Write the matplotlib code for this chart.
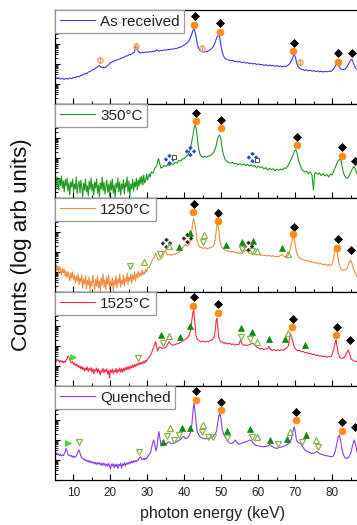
import numpy as np
import matplotlib
matplotlib.use("Agg")
import matplotlib.pyplot as plt
from matplotlib.path import Path
from matplotlib.ticker import MultipleLocator, FixedLocator, LogLocator, NullFormatter

plt.rcParams['font.family'] = ['Liberation Sans', 'DejaVu Sans']

# ---------------------------------------------------------------------------
# Spectra: (photon energy in keV, log10 counts in arbitrary units)
# ---------------------------------------------------------------------------
as_received = [
    (5.0, 1.33), (5.5, 1.29), (6.0, 1.31), (6.5, 1.25), (7.0, 1.27), (7.5, 1.23), (8.0, 1.28), (8.5, 1.25),
    (9.0, 1.30), (9.5, 1.27), (10.0, 1.33), (10.5, 1.31), (11.0, 1.38), (11.5, 1.36), (12.0, 1.43), (12.5, 1.44),
    (13.0, 1.52), (13.5, 1.51), (14.0, 1.60), (14.5, 1.62), (15.0, 1.70), (15.5, 1.72), (16.0, 1.80), (16.5, 1.85),
    (17.0, 1.93), (17.5, 1.83), (18.0, 1.84), (18.5, 1.81), (19.0, 1.88), (19.5, 1.96), (20.0, 2.08), (20.5, 2.10),
    (21.0, 2.16), (21.5, 2.17), (22.0, 2.23), (22.5, 2.24), (23.0, 2.31), (23.5, 2.32), (24.0, 2.39), (24.5, 2.40),
    (25.0, 2.46), (25.5, 2.47), (26.0, 2.53), (26.5, 2.60), (27.0, 2.95), (27.5, 2.63), (28.0, 2.55), (28.5, 2.58),
    (29.0, 2.56), (29.5, 2.60), (30.0, 2.58), (30.5, 2.62), (31.0, 2.60), (31.5, 2.64), (32.0, 2.63), (32.5, 2.71),
    (33.0, 2.64), (33.5, 2.68), (34.0, 2.66), (34.5, 2.70), (35.0, 2.69), (35.5, 2.73), (36.0, 2.71), (36.5, 2.75),
    (37.0, 2.74), (37.5, 2.78), (38.0, 2.78), (38.5, 2.83), (39.0, 2.84), (39.5, 2.90), (40.0, 2.95), (40.5, 3.03),
    (41.0, 3.10), (41.5, 3.26), (42.0, 3.50), (42.3, 3.68), (42.6, 3.75), (42.9, 3.60), (43.2, 3.30), (43.5, 3.00),
    (43.8, 2.80), (44.2, 2.68), (44.7, 2.62), (45.2, 2.60), (45.7, 2.61), (46.2, 2.64), (46.7, 2.68), (47.2, 2.75),
    (47.7, 2.84), (48.2, 3.02), (48.6, 3.25), (48.9, 3.38), (49.2, 3.43), (49.5, 3.38), (49.8, 3.05), (50.1, 2.70),
    (50.5, 2.42), (51.0, 2.28), (51.5, 2.23), (52.0, 2.20), (52.5, 2.16), (53.0, 2.18), (53.5, 2.13), (54.0, 2.14),
    (54.5, 2.10), (55.0, 2.12), (55.5, 2.07), (56.0, 2.09), (56.5, 2.05), (57.0, 2.07), (57.5, 2.02), (58.0, 2.05),
    (58.5, 2.00), (59.0, 2.03), (59.5, 1.98), (60.0, 2.00), (60.5, 1.96), (61.0, 1.98), (61.5, 1.93), (62.0, 1.96),
    (62.5, 1.92), (63.0, 1.95), (63.5, 1.90), (64.0, 1.93), (64.5, 1.89), (65.0, 1.92), (65.5, 1.87), (66.0, 1.90),
    (66.5, 1.86), (67.0, 1.89), (67.5, 1.88), (68.0, 1.94), (68.5, 2.02), (69.0, 2.18), (69.4, 2.38), (69.7, 2.48),
    (70.0, 2.35), (70.4, 2.02), (70.8, 1.86), (71.2, 1.78), (71.6, 1.74), (72.0, 1.72), (72.5, 1.68), (73.0, 1.71),
    (73.5, 1.66), (74.0, 1.69), (74.5, 1.64), (75.0, 1.67), (75.5, 1.62), (76.0, 1.65), (76.5, 1.61), (77.0, 1.64),
    (77.5, 1.60), (78.0, 1.63), (78.5, 1.61), (79.0, 1.64), (79.5, 1.63), (80.0, 1.68), (80.5, 1.80), (81.0, 1.95),
    (81.4, 2.03), (81.8, 1.90), (82.2, 1.77), (82.6, 1.72), (83.0, 1.73), (83.5, 1.75), (84.0, 1.86), (84.5, 2.05),
    (85.0, 2.20), (85.3, 2.23), (85.7, 2.05), (86.2, 1.82), (86.7, 1.75), (87.2, 1.73), (87.7, 1.75), (88.2, 1.72),
]

annealed_350 = [
    (5.0, 0.95), (5.25, 0.55), (5.5, 1.05), (5.75, 0.70), (6.0, 0.40), (6.25, 0.98), (6.5, 0.62), (6.75, 1.10),
    (7.0, 0.50), (7.25, 0.85), (7.5, 0.30), (7.75, 0.92), (8.0, 0.60), (8.25, 1.00), (8.5, 0.35), (8.75, 0.75),
    (9.0, 0.15), (9.25, 0.80), (9.5, 0.55), (9.75, 0.95), (10.0, 0.30), (10.25, 0.70), (10.5, 0.45), (10.75, 1.05),
    (11.0, 0.20), (11.25, 0.65), (11.5, 0.85), (11.75, 0.25), (12.0, 0.90), (12.25, 0.50), (12.5, 0.05), (12.75, 0.75),
    (13.0, 0.40), (13.25, 0.95), (13.5, 0.30), (13.75, 0.60), (14.0, 0.10), (14.25, 0.85), (14.5, 0.45), (14.75, 1.00),
    (15.0, 0.35), (15.25, 0.70), (15.5, 0.15), (15.75, 0.80), (16.0, 0.50), (16.25, 0.95), (16.5, 0.25), (16.75, 0.65),
    (17.0, 0.05), (17.25, 0.75), (17.5, 0.45), (17.75, 1.05), (18.0, 0.35), (18.25, 0.80), (18.5, 0.20), (18.75, 0.60),
    (19.0, 0.90), (19.25, 0.30), (19.5, 0.70), (19.75, 0.10), (20.0, 0.85), (20.25, 0.40), (20.5, 0.95), (20.75, 0.25),
    (21.0, 0.65), (21.25, 0.05), (21.5, 0.75), (21.75, 0.50), (22.0, 1.00), (22.25, 0.30), (22.5, 0.80), (22.75, 0.15),
    (23.0, 0.70), (23.25, 0.45), (23.5, 0.90), (23.75, 0.20), (24.0, 0.75), (24.25, 0.55), (24.5, 1.05), (24.75, 0.30),
    (25.0, 0.85), (25.25, 0.10), (25.5, 0.70), (25.75, 0.45), (26.0, 0.95), (26.25, 0.35), (26.5, 0.80), (26.75, 0.55),
    (27.0, 1.00), (27.25, 0.40), (27.5, 0.90), (27.75, 0.60), (28.0, 1.05), (28.25, 0.70), (28.5, 1.10), (28.75, 0.65),
    (29.0, 1.15), (29.25, 0.75), (29.5, 0.85), (29.75, 1.20), (30.0, 0.90), (30.25, 1.05), (30.5, 1.20), (30.75, 1.05),
    (31.0, 1.30), (31.5, 1.25), (32.0, 1.50), (32.5, 1.60), (32.8, 1.85), (33.0, 1.98), (33.3, 1.75), (33.6, 1.50),
    (34.0, 1.52), (34.5, 1.62), (35.0, 1.58), (35.5, 1.68), (36.0, 1.62), (36.5, 1.72), (37.0, 1.68), (37.5, 1.78),
    (38.0, 1.75), (38.5, 1.88), (39.0, 1.85), (39.5, 1.95), (40.0, 1.98), (40.5, 2.08), (41.0, 2.15), (41.5, 2.40),
    (41.9, 2.75), (42.3, 3.10), (42.6, 3.50), (42.9, 3.65), (43.2, 3.45), (43.5, 2.95), (43.8, 2.50), (44.2, 2.20),
    (44.6, 2.08), (45.0, 2.04), (45.5, 2.08), (46.0, 2.03), (46.5, 2.10), (47.0, 2.12), (47.5, 2.20), (48.0, 2.32),
    (48.5, 2.55), (48.9, 2.90), (49.2, 3.08), (49.5, 3.15), (49.8, 3.00), (50.1, 2.60), (50.5, 2.20), (51.0, 1.92),
    (51.5, 1.82), (52.0, 1.78), (52.5, 1.75), (53.0, 1.78), (53.5, 1.70), (54.0, 1.74), (54.5, 1.66), (55.0, 1.72),
    (55.5, 1.64), (56.0, 1.70), (56.5, 1.62), (57.0, 1.68), (57.5, 1.60), (58.0, 1.66), (58.5, 1.58), (59.0, 1.63),
    (59.5, 1.50), (60.0, 1.60), (60.5, 1.52), (61.0, 1.56), (61.5, 1.45), (62.0, 1.52), (62.5, 1.40), (63.0, 1.48),
    (63.5, 1.42), (64.0, 1.46), (64.5, 1.36), (65.0, 1.44), (65.5, 1.38), (66.0, 1.45), (66.5, 1.40), (67.0, 1.50),
    (67.5, 1.48), (68.0, 1.62), (68.5, 1.80), (69.0, 1.98), (69.5, 2.22), (69.9, 2.38), (70.2, 2.40), (70.5, 2.22),
    (70.9, 1.85), (71.3, 1.65), (71.7, 1.45), (72.0, 1.38), (72.5, 1.30), (73.0, 1.35), (73.5, 1.22), (74.0, 1.30),
    (74.5, 1.15), (74.9, 0.40), (75.2, 1.20), (75.5, 1.28), (76.0, 1.18), (76.5, 1.25), (77.0, 1.12), (77.5, 1.22),
    (78.0, 1.10), (78.5, 1.18), (79.0, 1.05), (79.5, 1.20), (80.0, 1.15), (80.5, 1.40), (81.0, 1.62), (81.5, 1.85),
    (82.0, 1.93), (82.3, 1.90), (82.7, 1.55), (83.0, 1.25), (83.5, 1.05), (84.0, 0.98), (84.5, 1.10), (85.0, 1.30),
    (85.5, 1.50), (85.9, 1.57), (86.3, 1.40), (86.8, 1.15), (87.3, 1.10), (88.0, 1.05),
]

annealed_1250 = [
    (5.0, 1.20), (5.25, 1.40), (5.5, 1.05), (5.75, 1.30), (6.0, 0.95), (6.25, 1.25), (6.5, 1.10), (6.75, 0.85),
    (7.0, 1.20), (7.25, 0.95), (7.5, 1.15), (7.75, 0.80), (8.0, 1.05), (8.25, 0.70), (8.5, 1.00), (8.75, 0.85),
    (9.0, 0.55), (9.25, 0.95), (9.5, 0.70), (9.75, 1.00), (10.0, 0.60), (10.25, 0.85), (10.5, 0.45), (10.75, 0.80),
    (11.0, 0.55), (11.25, 0.90), (11.5, 0.35), (11.75, 0.70), (12.0, 0.50), (12.25, 0.85), (12.5, 0.20), (12.75, 0.65),
    (13.0, 0.40), (13.25, 0.80), (13.5, 0.15), (13.75, 0.60), (14.0, 0.35), (14.25, 0.75), (14.5, 0.05), (14.75, 0.55),
    (15.0, 0.30), (15.25, 0.85), (15.5, 0.40), (15.75, 0.10), (16.0, 0.65), (16.25, 0.30), (16.5, 0.80), (16.75, 0.20),
    (17.0, 0.55), (17.25, 0.05), (17.5, 0.70), (17.75, 0.35), (18.0, 0.90), (18.25, 0.25), (18.5, 0.60), (18.75, 0.10),
    (19.0, 0.75), (19.25, 0.40), (19.5, 0.85), (19.75, 0.15), (20.0, 0.55), (20.25, 0.30), (20.5, 0.70), (20.75, 0.05),
    (21.0, 0.60), (21.25, 0.35), (21.5, 0.80), (21.75, 0.20), (22.0, 0.65), (22.25, 0.45), (22.5, 0.90), (22.75, 0.25),
    (23.0, 0.60), (23.25, 0.40), (23.5, 0.85), (23.75, 0.30), (24.0, 0.70), (24.25, 0.50), (24.5, 0.95), (24.75, 0.40),
    (25.0, 0.75), (25.25, 0.55), (25.5, 0.90), (25.75, 0.45), (26.0, 0.85), (26.25, 0.60), (26.5, 1.00), (26.75, 0.55),
    (27.0, 0.90), (27.25, 0.70), (27.5, 1.05), (27.75, 0.75), (28.0, 0.95), (28.25, 0.80), (28.5, 1.10), (28.75, 0.85),
    (29.0, 1.00), (29.25, 0.90), (29.5, 1.15), (29.75, 1.00), (30.0, 1.20), (30.5, 1.25), (31.0, 1.45), (31.5, 1.65),
    (32.0, 1.80), (32.3, 1.93), (32.7, 1.70), (33.0, 1.60), (33.5, 1.65), (34.0, 1.72), (34.4, 1.90), (34.8, 2.10),
    (35.2, 1.92), (35.6, 1.85), (36.0, 1.87), (36.5, 1.84), (37.0, 1.90), (37.5, 1.88), (38.0, 1.95), (38.5, 2.00),
    (39.0, 2.08), (39.5, 2.22), (40.0, 2.32), (40.3, 2.38), (40.7, 2.28), (41.1, 2.35), (41.5, 2.50), (41.9, 2.85),
    (42.2, 3.40), (42.5, 3.68), (42.8, 3.45), (43.1, 3.10), (43.4, 2.60), (43.8, 2.35), (44.2, 2.24), (44.7, 2.22),
    (45.2, 2.18), (45.7, 2.21), (46.2, 2.16), (46.7, 2.20), (47.2, 2.22), (47.7, 2.28), (48.1, 2.40), (48.5, 2.90),
    (48.8, 3.40), (49.0, 3.43), (49.3, 3.10), (49.6, 2.55), (50.0, 2.28), (50.5, 2.15), (51.0, 2.10), (51.5, 2.05),
    (52.0, 2.06), (52.5, 2.00), (53.0, 2.03), (53.5, 1.98), (54.0, 1.99), (54.5, 1.94), (55.0, 1.96), (55.5, 1.92),
    (56.0, 1.98), (56.5, 2.10), (57.0, 2.05), (57.5, 1.94), (58.0, 1.92), (58.5, 1.88), (59.0, 1.90), (59.5, 1.86),
    (60.0, 1.88), (60.5, 1.84), (61.0, 1.86), (61.5, 1.82), (62.0, 1.84), (62.5, 1.80), (63.0, 1.83), (63.5, 1.78),
    (64.0, 1.81), (64.5, 1.76), (65.0, 1.79), (65.5, 1.76), (66.0, 1.84), (66.5, 1.86), (67.0, 1.78), (67.5, 1.76),
    (68.0, 1.82), (68.5, 2.05), (69.0, 2.50), (69.4, 2.85), (69.8, 2.55), (70.2, 2.10), (70.6, 1.85), (71.0, 1.72),
    (71.5, 1.66), (72.0, 1.62), (72.5, 1.58), (73.0, 1.60), (73.5, 1.52), (74.0, 1.55), (74.5, 1.48), (75.0, 1.50),
    (75.5, 1.44), (76.0, 1.47), (76.5, 1.40), (77.0, 1.43), (77.5, 1.35), (78.0, 1.40), (78.5, 1.33), (79.0, 1.37),
    (79.5, 1.32), (80.0, 1.40), (80.4, 1.75), (80.8, 2.25), (81.0, 2.35), (81.3, 2.00), (81.6, 1.60), (82.0, 1.30),
    (82.5, 1.12), (83.0, 1.08), (83.5, 1.12), (84.0, 1.20), (84.5, 1.45), (84.9, 1.60), (85.3, 1.45), (85.7, 1.15),
    (86.1, 1.00), (86.6, 0.78), (87.0, 0.85), (87.5, 0.80), (88.0, 0.90),
]

annealed_1525 = [
    (5.0, 1.30), (5.25, 1.22), (5.5, 1.35), (5.75, 1.25), (6.0, 1.30), (6.25, 1.18), (6.5, 1.28), (6.75, 1.20),
    (7.0, 1.25), (7.25, 1.15), (7.5, 1.24), (7.75, 1.18), (8.0, 1.28), (8.25, 1.35), (8.5, 1.50), (8.75, 1.45),
    (9.0, 1.30), (9.25, 1.20), (9.5, 1.15), (9.75, 1.22), (10.0, 1.08), (10.25, 1.15), (10.5, 1.02), (10.75, 1.10),
    (11.0, 0.98), (11.25, 1.05), (11.5, 0.92), (11.75, 1.00), (12.0, 0.85), (12.25, 0.98), (12.5, 0.82), (12.75, 0.92),
    (13.0, 0.75), (13.25, 0.90), (13.5, 0.80), (13.75, 0.95), (14.0, 0.72), (14.25, 0.88), (14.5, 0.78), (14.75, 0.92),
    (15.0, 0.70), (15.25, 0.85), (15.5, 0.60), (15.75, 0.82), (16.0, 0.75), (16.25, 0.90), (16.5, 0.68), (16.75, 0.85),
    (17.0, 0.72), (17.25, 0.55), (17.5, 0.80), (17.75, 0.70), (18.0, 0.88), (18.25, 0.65), (18.5, 0.82), (18.75, 0.72),
    (19.0, 0.85), (19.25, 0.60), (19.5, 0.78), (19.75, 0.40), (20.0, 0.80), (20.25, 0.68), (20.5, 0.85), (20.75, 0.62),
    (21.0, 0.78), (21.25, 0.70), (21.5, 0.88), (21.75, 0.65), (22.0, 0.82), (22.25, 0.72), (22.5, 0.90), (22.75, 0.70),
    (23.0, 0.85), (23.25, 0.68), (23.5, 0.88), (23.75, 0.75), (24.0, 0.92), (24.25, 0.80), (24.5, 0.95), (24.75, 0.82),
    (25.0, 0.98), (25.25, 0.85), (25.5, 1.00), (25.75, 0.90), (26.0, 1.05), (26.25, 0.92), (26.5, 1.08), (26.75, 0.98),
    (27.0, 1.10), (27.25, 1.02), (27.5, 1.15), (27.75, 1.05), (28.0, 1.18), (28.25, 1.08), (28.5, 1.20), (28.75, 1.12),
    (29.0, 1.25), (29.25, 1.15), (29.5, 1.28), (29.75, 1.22), (30.0, 1.35), (30.5, 1.45), (31.0, 1.60), (31.5, 1.85),
    (31.9, 2.05), (32.2, 2.22), (32.5, 1.95), (32.8, 1.75), (33.2, 1.95), (33.6, 1.92), (34.0, 1.88), (34.5, 1.90),
    (35.0, 1.95), (35.5, 2.10), (35.9, 2.22), (36.3, 2.10), (36.8, 2.04), (37.3, 2.06), (37.8, 2.10), (38.3, 2.12),
    (38.8, 2.16), (39.3, 2.22), (39.8, 2.28), (40.3, 2.34), (40.8, 2.40), (41.3, 2.55), (41.7, 2.80), (42.0, 3.30),
    (42.3, 3.70), (42.5, 3.77), (42.8, 3.20), (43.1, 2.55), (43.5, 2.32), (44.0, 2.26), (44.5, 2.21), (45.0, 2.25),
    (45.5, 2.20), (46.0, 2.24), (46.5, 2.22), (47.0, 2.28), (47.5, 2.30), (48.0, 2.45), (48.3, 2.75), (48.6, 3.30),
    (48.8, 3.38), (49.0, 3.00), (49.3, 2.45), (49.7, 2.22), (50.2, 2.20), (50.7, 2.13), (51.2, 2.17), (51.7, 2.10),
    (52.2, 2.15), (52.7, 2.07), (53.2, 2.11), (53.7, 2.04), (54.2, 2.08), (54.7, 2.06), (55.0, 2.22), (55.2, 2.30),
    (55.5, 2.12), (56.0, 2.03), (56.5, 2.06), (57.0, 2.02), (57.5, 2.07), (58.0, 2.10), (58.5, 2.14), (59.0, 2.05),
    (59.5, 1.95), (60.0, 1.91), (60.5, 1.85), (61.0, 1.88), (61.5, 1.82), (62.0, 1.86), (62.5, 1.86), (62.8, 1.98),
    (63.2, 1.84), (63.7, 1.78), (64.2, 1.83), (64.7, 1.77), (65.2, 1.82), (65.7, 1.76), (66.2, 1.82), (66.7, 1.78),
    (67.2, 1.85), (67.7, 1.92), (68.1, 2.00), (68.4, 2.35), (68.7, 2.63), (69.0, 2.45), (69.3, 2.25), (69.7, 1.95),
    (70.1, 1.85), (70.6, 1.76), (71.1, 1.78), (71.6, 1.71), (72.1, 1.73), (72.6, 1.66), (73.1, 1.68), (73.6, 1.61),
    (74.1, 1.64), (74.6, 1.57), (75.1, 1.59), (75.6, 1.52), (76.1, 1.55), (76.6, 1.49), (77.1, 1.52), (77.6, 1.46),
    (78.1, 1.50), (78.6, 1.44), (79.1, 1.48), (79.6, 1.46), (80.0, 1.60), (80.4, 1.85), (80.8, 2.20), (81.0, 2.30),
    (81.3, 1.95), (81.6, 1.62), (82.0, 1.45), (82.5, 1.38), (83.0, 1.40), (83.5, 1.50), (84.0, 1.70), (84.3, 1.80),
    (84.7, 1.60), (85.1, 1.35), (85.6, 1.28), (86.1, 1.24), (86.6, 1.22), (87.1, 1.20), (88.0, 1.18),
]

quenched = [
    (5.0, 1.33), (5.25, 1.28), (5.5, 1.35), (5.75, 1.25), (6.0, 1.30), (6.25, 1.22), (6.5, 1.28), (6.75, 1.20),
    (7.0, 1.26), (7.25, 1.22), (7.5, 1.30), (7.75, 1.42), (8.0, 1.58), (8.25, 1.45), (8.5, 1.30), (8.75, 1.22),
    (9.0, 1.25), (9.25, 1.18), (9.5, 1.22), (9.75, 1.15), (10.0, 1.20), (10.25, 1.12), (10.5, 1.17), (10.75, 1.20),
    (11.0, 1.30), (11.25, 1.45), (11.5, 1.50), (11.75, 1.35), (12.0, 1.20), (12.25, 1.12), (12.5, 1.08), (12.75, 1.02),
    (13.0, 1.05), (13.25, 0.96), (13.5, 1.00), (13.75, 0.92), (14.0, 0.98), (14.25, 0.88), (14.5, 0.95), (14.75, 0.86),
    (15.0, 0.92), (15.25, 0.84), (15.5, 0.90), (15.75, 0.80), (16.0, 0.88), (16.25, 0.78), (16.5, 0.86), (16.75, 0.80),
    (17.0, 0.87), (17.25, 0.76), (17.5, 0.84), (17.75, 0.72), (18.0, 0.85), (18.25, 0.75), (18.5, 0.82), (18.75, 0.70),
    (19.0, 0.80), (19.25, 0.68), (19.5, 0.82), (19.75, 0.72), (20.0, 0.55), (20.25, 0.80), (20.5, 0.70), (20.75, 0.82),
    (21.0, 0.62), (21.25, 0.78), (21.5, 0.68), (21.75, 0.80), (22.0, 0.58), (22.25, 0.78), (22.5, 0.72), (22.75, 0.84),
    (23.0, 0.60), (23.25, 0.80), (23.5, 0.74), (23.75, 0.86), (24.0, 0.70), (24.25, 0.84), (24.5, 0.78), (24.75, 0.88),
    (25.0, 0.80), (25.25, 0.90), (25.5, 0.84), (25.75, 0.94), (26.0, 0.86), (26.25, 0.96), (26.5, 0.90), (26.75, 0.98),
    (27.0, 0.92), (27.25, 1.00), (27.5, 0.98), (27.75, 1.08), (28.0, 1.15), (28.25, 1.10), (28.5, 1.05), (28.75, 1.00),
    (29.0, 1.08), (29.25, 1.02), (29.5, 1.10), (29.75, 1.05), (30.0, 1.15), (30.4, 1.25), (30.8, 1.35), (31.1, 1.60),
    (31.4, 1.85), (31.7, 2.00), (32.0, 1.75), (32.3, 1.45), (32.6, 1.70), (32.9, 2.20), (33.1, 2.42), (33.4, 2.05),
    (33.7, 1.70), (34.1, 1.72), (34.5, 1.76), (34.9, 1.78), (35.3, 1.85), (35.7, 1.92), (36.1, 1.86), (36.5, 1.82),
    (37.0, 1.84), (37.5, 1.88), (38.0, 1.92), (38.5, 1.98), (39.0, 2.04), (39.5, 2.15), (39.8, 2.18), (40.2, 2.08),
    (40.6, 2.07), (41.0, 2.15), (41.4, 2.25), (41.8, 2.45), (42.1, 2.95), (42.4, 3.60), (42.6, 3.83), (42.9, 3.40),
    (43.2, 2.80), (43.5, 2.40), (43.9, 2.25), (44.3, 2.15), (44.8, 2.10), (45.3, 2.07), (45.8, 2.06), (46.3, 2.08),
    (46.8, 2.07), (47.3, 2.12), (47.8, 2.18), (48.3, 2.30), (48.7, 2.45), (49.0, 2.85), (49.3, 3.22), (49.6, 3.33),
    (49.9, 3.05), (50.2, 2.58), (50.6, 2.28), (51.0, 2.15), (51.5, 2.00), (52.0, 1.88), (52.5, 1.82), (53.0, 1.85),
    (53.4, 1.92), (53.8, 2.00), (54.2, 1.88), (54.7, 1.80), (55.2, 1.82), (55.7, 1.86), (56.2, 1.88), (56.7, 1.92),
    (57.2, 1.96), (57.7, 2.00), (58.2, 1.95), (58.7, 1.82), (59.2, 1.74), (59.7, 1.72), (60.2, 1.70), (60.7, 1.68),
    (61.2, 1.66), (61.7, 1.67), (62.2, 1.68), (62.7, 1.72), (63.1, 1.78), (63.5, 1.70), (64.0, 1.64), (64.5, 1.60),
    (65.0, 1.58), (65.5, 1.62), (66.0, 1.64), (66.5, 1.66), (67.0, 1.70), (67.5, 1.75), (68.0, 1.80), (68.5, 1.86),
    (68.9, 2.05), (69.3, 2.40), (69.7, 2.67), (70.0, 2.40), (70.3, 2.00), (70.7, 1.88), (71.1, 1.85), (71.5, 1.80),
    (72.0, 1.65), (72.5, 1.52), (73.0, 1.45), (73.5, 1.40), (74.0, 1.36), (74.5, 1.33), (75.0, 1.34), (75.5, 1.40),
    (75.9, 1.42), (76.3, 1.36), (76.8, 1.30), (77.3, 1.27), (77.8, 1.24), (78.3, 1.22), (78.8, 1.20), (79.3, 1.18),
    (79.8, 1.17), (80.3, 1.20), (80.8, 1.45), (81.2, 1.80), (81.6, 2.15), (81.9, 2.25), (82.2, 2.00), (82.6, 1.55),
    (83.0, 1.25), (83.5, 1.10), (84.0, 1.08), (84.5, 1.15), (85.0, 1.35), (85.5, 1.75), (85.9, 2.00), (86.2, 1.85),
    (86.6, 1.50), (87.0, 1.20), (87.5, 1.10), (88.0, 1.08),
]

series_labels = ["As received", "350°C", "1250°C", "1525°C", "Quenched"]
series_data = [as_received, annealed_350, annealed_1250, annealed_1525, quenched]
series_colors = ["#3a3aff", "#1f9a1f", "#f28c3e", "#ff2a48", "#8a3cf0"]

energy_ticks = [10, 20, 30, 40, 50, 60, 70, 80]

# ---------------------------------------------------------------------------
# Phase markers per panel: (photon energy keV, log10 level)
# ---------------------------------------------------------------------------
black_diamond = [
    [(42.8, 4.42), (49.6, 4.03), (69.7, 3.07), (81.6, 2.57), (85.2, 2.57)],
    [(43.2, 4.23), (49.9, 3.90), (70.4, 3.07), (82.7, 2.53), (86.0, 1.87)],
    [(42.6, 4.38), (49.2, 3.97), (69.6, 3.27), (81.4, 2.63), (85.0, 2.10)],
    [(42.6, 4.43), (49.2, 4.08), (69.5, 3.35), (81.2, 2.93), (84.8, 2.30)],
    [(43.0, 4.45), (49.9, 3.92), (70.1, 3.38), (82.7, 2.88), (86.1, 2.63)],
]
orange_circle = [
    [(42.7, 3.95), (49.5, 3.60), (69.5, 2.63), (81.4, 2.12)],
    [(43.1, 3.85), (49.9, 3.48), (70.4, 2.63), (82.6, 2.10)],
    [(42.4, 3.98), (49.0, 3.57), (69.5, 2.88), (81.2, 2.22)],
    [(42.4, 4.02), (49.0, 3.63), (69.2, 2.97), (81.0, 2.55)],
    [(43.0, 4.00), (49.9, 3.50), (70.1, 2.98), (82.5, 2.47)],
]
phi_circle = [
    [(17.2, 2.20), (26.9, 2.90), (44.7, 2.82), (71.3, 2.08)],
    [], [], [], [],
]
cross_diamond_blue = [
    [],
    [(35.7, 1.95), (41.4, 2.37), (58.2, 2.07)],
    [], [], [],
]
cross_diamond_black = [
    [], [],
    [(35.0, 2.47), (40.6, 2.72), (57.3, 2.32)],
    [], [],
]
open_square = [
    [],
    [(37.3, 2.07), (59.7, 1.90)],
    [], [], [],
]
green_up_filled = [
    [], [],
    [(38.6, 2.27), (41.5, 2.97), (51.3, 2.35), (55.7, 2.48), (58.6, 2.57), (66.5, 2.22)],
    [(33.7, 2.55), (38.8, 2.47), (41.5, 3.00), (55.2, 2.88), (58.3, 2.72), (62.9, 2.33), (67.2, 2.33), (72.6, 2.05)],
    [(34.3, 1.88), (39.3, 2.62), (41.5, 2.58), (51.5, 2.45), (57.7, 2.53), (63.2, 2.00), (67.7, 2.03), (72.8, 2.25)],
]
green_down_open = [
    [], [],
    [(25.3, 1.30), (33.4, 1.88), (45.1, 2.52), (55.5, 2.13), (58.2, 2.05)],
    [(27.4, 1.38), (34.1, 2.13), (55.2, 2.47), (57.7, 2.33)],
    [(11.6, 1.92), (27.8, 1.42), (35.4, 2.20), (37.3, 2.00), (38.6, 2.23), (44.7, 2.42), (46.5, 2.15),
     (47.6, 2.15), (51.5, 2.08), (58.2, 2.17), (65.2, 1.78), (71.7, 1.92), (76.0, 1.67)],
]
green_up_open = [
    [], [],
    [(29.1, 1.52), (35.9, 2.32), (45.4, 2.85), (59.5, 2.05), (68.1, 1.88)],
    [(35.9, 2.52), (59.7, 2.22), (67.9, 2.67)],
    [(36.1, 2.62), (44.9, 2.75), (59.7, 2.17), (68.6, 2.42), (75.5, 2.00)],
]
green_right = [
    [], [], [],
    [(9.8, 1.47)],
    [(8.4, 1.83)],
]

# ---------------------------------------------------------------------------
# Marker shapes
# ---------------------------------------------------------------------------
def _four_diamonds():
    verts, codes = [], []
    r = 0.30
    for cx, cy in [(0, 0.55), (0.55, 0), (0, -0.55), (-0.55, 0)]:
        verts += [(cx, cy + r), (cx + r, cy), (cx, cy - r), (cx - r, cy), (cx, cy + r)]
        codes += [Path.MOVETO, Path.LINETO, Path.LINETO, Path.LINETO, Path.CLOSEPOLY]
    return Path(verts, codes)


CROSS_DIAMOND = _four_diamonds()
PHI = Path.make_compound_path(Path.unit_circle(), Path([(0, -1.45), (0, 1.45)]))

marker_styles = [
    (phi_circle, dict(marker=PHI, ms=5.5, mfc="none", mec="#f5a25a", mew=0.9)),
    (black_diamond, dict(marker="D", ms=4.2, mfc="black", mec="black", mew=0.5)),
    (orange_circle, dict(marker="o", ms=5.0, mfc="#ff8c1a", mec="#ff8c1a", mew=0.5)),
    (cross_diamond_blue, dict(marker=CROSS_DIAMOND, ms=8.0, mfc="#2244d8", mec="#2244d8", mew=0.2)),
    (cross_diamond_black, dict(marker=CROSS_DIAMOND, ms=8.0, mfc="#222222", mec="#222222", mew=0.2)),
    (open_square, dict(marker="s", ms=3.4, mfc="white", mec="#555555", mew=0.7)),
    (green_up_filled, dict(marker="^", ms=5.0, mfc="#0f8a0f", mec="#0f8a0f", mew=0.5)),
    (green_down_open, dict(marker="v", ms=5.0, mfc="none", mec="#86b84e", mew=0.9)),
    (green_up_open, dict(marker="^", ms=5.0, mfc="none", mec="#86b84e", mew=0.9)),
    (green_right, dict(marker=">", ms=4.5, mfc="#3ad83a", mec="#3ad83a", mew=0.5)),
]

# ---------------------------------------------------------------------------
# Figure layout: five stacked panels sharing the energy axis
# ---------------------------------------------------------------------------
W, H = 357, 525
fig = plt.figure(figsize=(W / 100, H / 100), dpi=100)

left_px, right_px = 55, 369.3
top_px, panel_px = 10, 94
xmin, xmax = 5, 90
ymin, ymax = 1.0, 10 ** 4.7

axes = []
for i in range(5):
    b = top_px + panel_px * (i + 1)
    ax = fig.add_axes([left_px / W, 1 - b / H, (right_px - left_px) / W, panel_px / H])
    axes.append(ax)

for i, ax in enumerate(axes):
    pts = np.array(series_data[i])
    ax.plot(pts[:, 0], np.power(10.0, pts[:, 1]), color=series_colors[i], lw=0.8,
            label=series_labels[i], zorder=2)

    for groups, style in marker_styles:
        g = groups[i]
        if g:
            m = np.array(g)
            ax.plot(m[:, 0], np.power(10.0, m[:, 1]), ls="none", zorder=3, **style)

    ax.set_yscale("log")
    ax.set_xlim(xmin, xmax)
    ax.set_ylim(ymin, ymax)

    ax.xaxis.set_major_locator(FixedLocator(energy_ticks))
    ax.xaxis.set_minor_locator(MultipleLocator(5))
    ax.yaxis.set_major_locator(LogLocator(base=10, numticks=10))
    ax.yaxis.set_minor_locator(LogLocator(base=10, subs=np.arange(2, 10), numticks=10))
    ax.yaxis.set_major_formatter(NullFormatter())
    ax.yaxis.set_minor_formatter(NullFormatter())

    ax.tick_params(axis="x", which="both", direction="in", top=False, bottom=True,
                   labelsize=8.5, pad=5, labelcolor="#222222")
    ax.tick_params(axis="x", which="major", length=4.0, width=0.8)
    ax.tick_params(axis="x", which="minor", length=2.4, width=0.7)
    ax.tick_params(axis="y", which="both", direction="in", left=True, right=False, labelleft=False)
    ax.tick_params(axis="y", which="major", length=3.5, width=0.8)
    ax.tick_params(axis="y", which="minor", length=2.2, width=0.6)
    if i < 4:
        ax.tick_params(axis="x", labelbottom=False)

    for sp in ax.spines.values():
        sp.set_linewidth(0.9)

    leg = ax.legend(loc="upper left", borderaxespad=0.0, frameon=True, fancybox=False,
                    fontsize=11, handlelength=2.3, handletextpad=0.35, borderpad=0.3,
                    labelcolor="#222222")
    leg.get_frame().set_edgecolor("#999999")
    leg.get_frame().set_linewidth(0.9)
    leg.get_frame().set_alpha(1.0)

axes[-1].set_xlabel("photon energy (keV)", fontsize=11.5, color="#222222", labelpad=5)
fig.text(22 / W, 1 - 245 / H, "Counts (log arb units)", rotation=90, fontsize=16,
         color="#111111", ha="center", va="center")

fig.savefig("out.png", dpi=100)
